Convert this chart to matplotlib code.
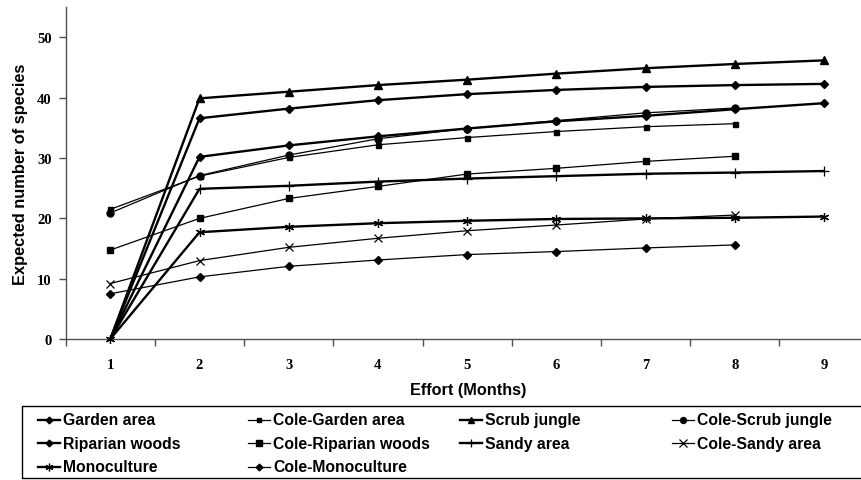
import matplotlib
matplotlib.use("Agg")
import matplotlib.pyplot as plt
from matplotlib.lines import Line2D
from matplotlib.patches import Rectangle

W, H = 861, 481

months = [1, 2, 3, 4, 5, 6, 7, 8, 9]
months_cole = [1, 2, 3, 4, 5, 6, 7, 8]

# observed curves (start at 0)
garden = [0, 36.6, 38.2, 39.6, 40.6, 41.3, 41.8, 42.1, 42.3]
scrub = [0, 39.9, 41.0, 42.1, 43.0, 44.0, 44.9, 45.6, 46.2]
riparian = [0, 30.2, 32.1, 33.6, 34.9, 36.1, 37.0, 38.1, 39.1]
sandy = [0, 24.9, 25.4, 26.1, 26.6, 27.0, 27.4, 27.6, 27.85]
monoculture = [0, 17.7, 18.6, 19.2, 19.6, 19.9, 20.0, 20.1, 20.3]

# Coleman curves
cole_garden = [21.5, 27.0, 30.1, 32.2, 33.4, 34.4, 35.2, 35.7]
cole_scrub = [20.9, 27.1, 30.5, 33.2, 34.9, 36.2, 37.5, 38.3]
cole_riparian = [14.75, 20.0, 23.3, 25.3, 27.35, 28.3, 29.45, 30.3]
cole_sandy = [9.2, 13.0, 15.2, 16.7, 17.95, 18.9, 19.9, 20.55]
cole_mono = [7.5, 10.3, 12.05, 13.1, 14.0, 14.5, 15.1, 15.6]

THICK = 1.7
THIN = 0.9
ALL = slice(0, None)
SKIP0 = slice(1, None)  # the 0-origin markers hide under the monoculture one

# label, x, y, marker, markersize, linewidth, mew, markevery
series = [
    ("Cole-Monoculture", months_cole, cole_mono, "D", 4, THIN, 1, ALL),
    ("Cole-Sandy area", months_cole, cole_sandy, "x", 6, THIN, 0.9, ALL),
    ("Cole-Riparian woods", months_cole, cole_riparian, "s", 5, THIN, 1, ALL),
    ("Cole-Scrub jungle", months_cole, cole_scrub, "o", 5, THIN, 1, ALL),
    ("Cole-Garden area", months_cole, cole_garden, "s", 3.6, THIN, 1, ALL),
    ("Sandy area", months, sandy, "+", 6.5, THICK, 0.9, SKIP0),
    ("Riparian woods", months, riparian, "D", 4, THICK, 1, SKIP0),
    ("Garden area", months, garden, "D", 4, THICK, 1, SKIP0),
    ("Scrub jungle", months, scrub, "^", 5.5, THICK, 1, SKIP0),
    ("Monoculture", months, monoculture, (6, 2, 0), 6.5, THICK, 0.9, ALL),
]

fig = plt.figure(figsize=(W / 100, H / 100), dpi=100)
ax = fig.add_axes([65.7 / W, 1 - 340 / H, (W - 65.7) / W, (340 - 8.3) / H])

styles = {}
for label, x, y, mk, ms, lw, mew, every in series:
    ax.plot(x, y, color="black", lw=lw, marker=mk, markersize=ms,
            markeredgewidth=mew, markerfacecolor="black",
            markeredgecolor="black", markevery=every, clip_on=False, zorder=3)
    styles[label] = (mk, ms, lw, mew)

ax.set_xlim(0.5, 0.5 + (W - 65.7) / 89.2)
ax.set_ylim(0, 55)

for side in ("top", "right"):
    ax.spines[side].set_visible(False)
for side in ("left", "bottom"):
    ax.spines[side].set_color("#505050")
    ax.spines[side].set_linewidth(1.0)

ax.set_xticks(months)
ax.set_xticks([m + 0.5 for m in range(0, 9)], minor=True)
ax.set_yticks([0, 10, 20, 30, 40, 50])
ax.tick_params(axis="x", which="major", length=0, pad=14)
ax.tick_params(axis="x", which="minor", length=5, width=1, color="#505050", direction="out")
ax.tick_params(axis="y", length=5, width=1, color="#505050", direction="out", pad=5)
for lab in ax.get_xticklabels() + ax.get_yticklabels():
    lab.set_fontfamily("Liberation Serif")
    lab.set_fontweight("bold")
    lab.set_fontsize(10.5)

fig.text(468 / W, 1 - 390 / H, "Effort (Months)", ha="center", va="center",
         fontfamily="Liberation Sans", fontweight="bold", fontsize=11.7)
fig.text(21 / W, 1 - 174 / H, "Expected number of species", ha="center",
         va="center", rotation=90, fontfamily="Liberation Sans",
         fontweight="bold", fontsize=11.8)

# legend box drawn in figure pixels, entries row by row like the original
fig.patches.append(Rectangle((21.7 / W, 1 - 479.3 / H), (W + 10 - 21.7) / W, 72 / H,
                             transform=fig.transFigure, fill=False,
                             edgecolor="black", lw=1.0))
legend_rows = [
    ["Garden area", "Cole-Garden area", "Scrub jungle", "Cole-Scrub jungle"],
    ["Riparian woods", "Cole-Riparian woods", "Sandy area", "Cole-Sandy area"],
    ["Monoculture", "Cole-Monoculture"],
]
row_y = [421, 444, 467.5]
col_x = [38, 248, 460, 672]
for r, names in enumerate(legend_rows):
    for c, name in enumerate(names):
        mk, ms, lw, mew = styles[name]
        x0 = col_x[c]
        yy = 1 - row_y[r] / H
        fig.add_artist(Line2D([x0 / W, (x0 + 22) / W], [yy, yy], color="black",
                              lw=lw, transform=fig.transFigure))
        fig.add_artist(Line2D([(x0 + 11) / W], [yy], color="black", marker=mk,
                              markersize=ms * 0.85, markeredgewidth=mew,
                              markerfacecolor="black", transform=fig.transFigure))
        fig.text((x0 + 25) / W, yy, name, ha="left", va="center",
                 fontfamily="Liberation Sans", fontweight="bold", fontsize=11.3)

fig.savefig("out.png", dpi=100)
